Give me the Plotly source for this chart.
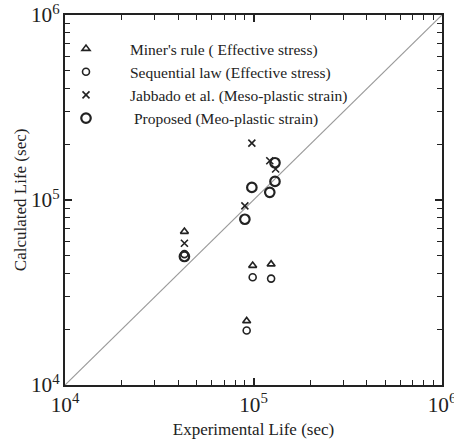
import plotly.graph_objects as go

# Data (seconds)
miner_x = [43000, 92000, 99000, 124000]
miner_y = [67500, 22200, 44200, 45000]

seq_x = [43000, 92000, 99000, 124000]
seq_y = [51000, 19700, 38200, 37600]

jab_x = [43000, 90000, 98000, 122000, 131000]
jab_y = [58400, 93000, 203000, 163000, 147000]

prop_x = [43000, 90000, 98000, 122000, 130000, 130000]
prop_y = [49500, 78700, 117000, 110000, 126000, 159000]

diag = [1e4, 1e6]

FONT = "Liberation Serif"
INK = "#222222"

fig = go.Figure()
fig.add_trace(go.Scatter(x=diag, y=diag, mode="lines",
                         line=dict(color="#9a9a9a", width=1.2),
                         showlegend=False, hoverinfo="skip"))
fig.add_trace(go.Scatter(x=miner_x, y=miner_y, mode="markers",
                         name="Miner's rule ( Effective stress)",
                         marker=dict(symbol="triangle-up-open", size=7,
                                     color=INK, line=dict(width=1.6, color=INK))))
fig.add_trace(go.Scatter(x=seq_x, y=seq_y, mode="markers",
                         name="Sequential law (Effective stress)",
                         marker=dict(symbol="circle-open", size=7,
                                     color=INK, line=dict(width=1.6, color=INK))))
fig.add_trace(go.Scatter(x=jab_x, y=jab_y, mode="markers",
                         name="Jabbado et al. (Meso-plastic strain)",
                         marker=dict(symbol="x-thin-open", size=7,
                                     color=INK, line=dict(width=1.6, color=INK))))
fig.add_trace(go.Scatter(x=prop_x, y=prop_y, mode="markers",
                         name=" Proposed (Meo-plastic strain)",
                         marker=dict(symbol="circle-open", size=9.5,
                                     color=INK, line=dict(width=2.2, color=INK))))

axis_common = dict(
    type="log",
    range=[4, 6],
    dtick=1,
    exponentformat="power",
    showexponent="all",
    showgrid=False,
    zeroline=False,
    showline=True,
    linecolor=INK,
    linewidth=2,
    mirror="allticks",
    ticks="inside",
    ticklen=7,
    tickwidth=1.5,
    tickcolor=INK,
    ticklabeloverflow="allow",
    tickfont=dict(family=FONT, size=17, color=INK),
    minor=dict(ticks="inside", ticklen=5, tickwidth=1.3, tickcolor=INK),
)

fig.update_xaxes(**axis_common,
                 title=dict(text="Experimental Life (sec)",
                            font=dict(family=FONT, size=17, color=INK)))
fig.update_yaxes(**axis_common)
fig.add_annotation(text="Calculated Life (sec)", xref="paper", yref="paper",
                   x=-0.119, y=0.5, xanchor="center", yanchor="middle",
                   textangle=-90, showarrow=False,
                   font=dict(family=FONT, size=17, color=INK))

fig.update_layout(
    width=454, height=439,
    margin=dict(l=65, r=12, t=15, b=54, autoexpand=False),
    paper_bgcolor="white",
    plot_bgcolor="white",
    legend=dict(x=-0.061, y=0.954, xanchor="left", yanchor="top",
                bgcolor="rgba(0,0,0,0)", font=dict(family=FONT, size=15.5, color=INK),
                itemwidth=78, tracegroupgap=0),
    showlegend=True,
)

# remove the page's default body margin so the figure sits at the window's top-left
fig.write_html("out.html", config={"displayModeBar": False},
               post_script="document.body.style.margin='0';")
